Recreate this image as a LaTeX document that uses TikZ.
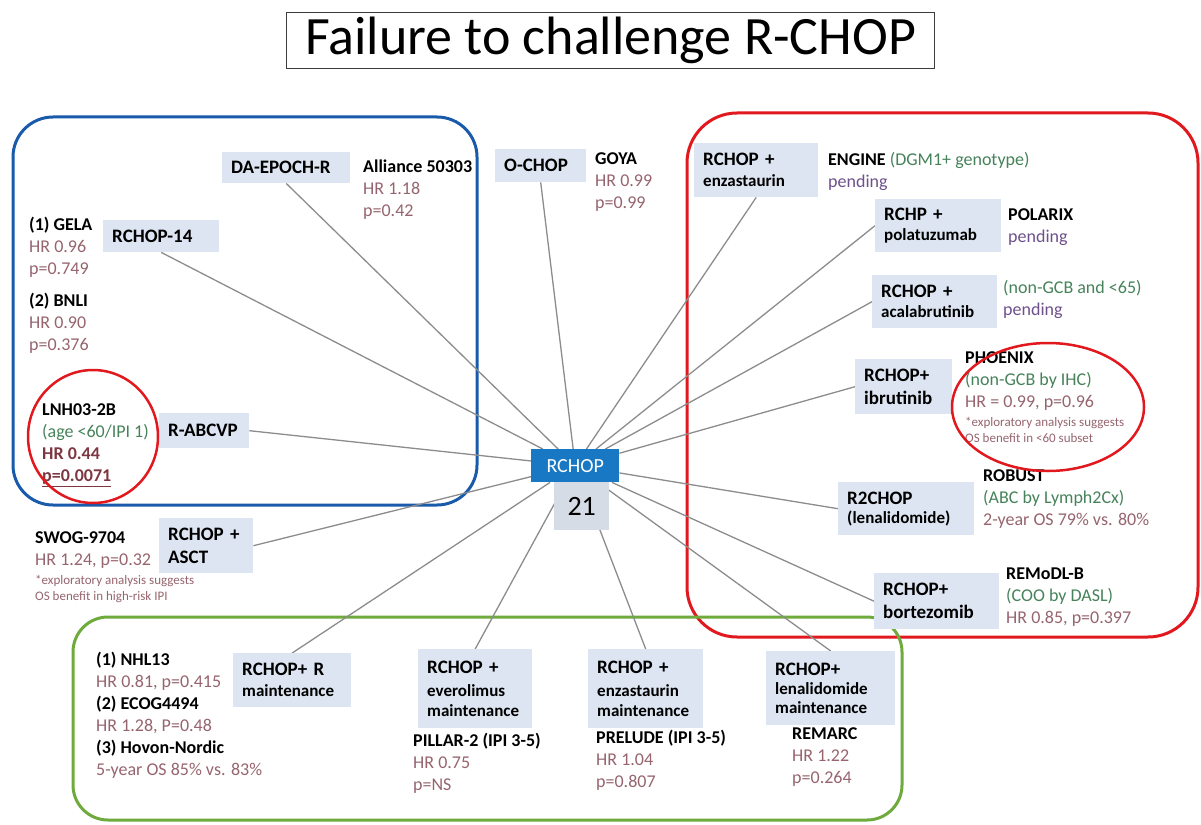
\documentclass[tikz,border=0pt]{standalone}
\usepackage{fontspec}
\setmainfont{Carlito}
\usetikzlibrary{backgrounds}

\definecolor{armfill}{RGB}{220,229,241}
\definecolor{numfill}{RGB}{214,220,229}
\definecolor{hubblue}{RGB}{25,120,195}
\definecolor{hrcol}{RGB}{150,100,110}
\definecolor{hrdark}{RGB}{125,55,65}
\definecolor{grncol}{RGB}{70,130,90}
\definecolor{purcol}{RGB}{110,80,140}
\definecolor{blueframe}{RGB}{25,90,170}
\definecolor{redframe}{RGB}{225,25,30}
\definecolor{greenframe}{RGB}{110,170,60}
\definecolor{spokecol}{RGB}{140,140,140}

\newcommand{\armsub}{\fontsize{17}{20}\selectfont}
\newcommand{\hr}[1]{{\color{hrcol}#1}}
\newcommand{\grn}[1]{{\color{grncol}#1}}
\newcommand{\pend}{{\color{purcol}pending}}

\tikzset{
  arm/.style={fill=armfill, anchor=north west, inner xsep=9pt, inner ysep=0pt, align=left,
    font=\bfseries\fontsize{19}{23}\selectfont},
  trial/.style={anchor=north west, inner sep=0pt, align=left,
    font=\fontsize{18}{22}\selectfont, execute at begin node=\strut},
  note/.style={anchor=north west, inner sep=0pt, align=left,
    font=\fontsize{13}{16}\selectfont, text=hrcol, execute at begin node=\strut},
  spoke/.style={draw=spokecol, line width=1.3pt},
  frame/.style={line width=3pt, rounded corners=#1},
  ring/.style={draw=redframe, line width=2.5pt},
}

\begin{document}
\begin{tikzpicture}[x=1pt,y=-1pt]
\useasboundingbox (0,0) rectangle (1201,824);

% title
\node[draw={rgb,255:red,60;green,60;blue,60}, line width=1.2pt, anchor=north west, inner sep=0pt,
  minimum width=648pt, minimum height=56pt, font=\fontsize{54}{60}\selectfont] (title) at (286,12) {Failure to challenge R-CHOP};

% hub
\node[fill=hubblue, text=white, anchor=north west, inner sep=0pt, minimum width=88pt, minimum height=33pt,
  font=\fontsize{20}{24}\selectfont] (hub) at (531,449) {RCHOP};
\node[fill=numfill, anchor=north west, inner sep=0pt, minimum width=55pt, minimum height=48pt,
  font=\fontsize{28}{32}\selectfont] (cycles) at (554,482) {21};

% arms, left
\node[arm, text width=110pt, minimum height=31pt] (daepoch) at (222,152) {DA-EPOCH-R};
\node[arm, text width=98pt, minimum height=32pt] (rchopfourteen) at (103,220) {RCHOP-14};
\node[arm, text width=72pt, minimum height=35pt] (rabcvp) at (159,413) {R-ABCVP};
\node[arm, text width=76pt, minimum height=55pt] (asct) at (159,518) {RCHOP +\\ASCT};
\node[arm, text width=73pt, minimum height=33pt] (ochop) at (495,149) {O-CHOP};

% arms, right
\node[arm, text width=106pt, minimum height=54pt] (enza) at (694,143) {RCHOP +\\[-2pt]{\armsub enzastaurin}};
\node[arm, text width=108pt, minimum height=53pt] (pola) at (875,199) {RCHP +\\[-3pt]{\armsub polatuzumab}};
\node[arm, text width=107pt, minimum height=53pt] (acala) at (872,275) {RCHOP +\\[-3pt]{\armsub acalabrutinib}};
\node[arm, text width=79pt, minimum height=55pt] (ibru) at (855,359) {RCHOP+\\ibrutinib};
\node[arm, text width=118pt, minimum height=53pt] (rtwo) at (838,482) {R2CHOP\\[-4pt]{\armsub (lenalidomide)}};
\node[arm, text width=107pt, minimum height=56pt] (borte) at (874,573) {RCHOP+\\bortezomib};

% arms, maintenance
\node[arm, text width=100pt, minimum height=54pt] (rmaint) at (233,653) {RCHOP+ R\\[-2pt]{\armsub maintenance}};
\node[arm, text width=96pt, minimum height=79pt] (everol) at (418,649) {RCHOP +\\{\armsub everolimus}\\[-3pt]{\armsub maintenance}};
\node[arm, text width=97pt, minimum height=79pt] (enzam) at (588,649) {RCHOP +\\{\armsub enzastaurin}\\[-3pt]{\armsub maintenance}};
\node[arm, text width=111pt, minimum height=74pt] (lenam) at (766,651) {RCHOP+\\[-4pt]{\armsub lenalidomide}\\[-4pt]{\armsub maintenance}};

% trials
\node[trial] (alliance) at (363,159.6) {\textbf{Alliance 50303}\\\hr{HR 1.18}\\\hr{p=0.42}};
\node[trial] (goya) at (595,152.6) {\textbf{GOYA}\\\hr{HR 0.99}\\\hr{p=0.99}};
\node[trial] (gela) at (29,216.6) {\textbf{(1) GELA}\\\hr{HR 0.96}\\\hr{p=0.749}};
\node[trial] (bnli) at (29,292.6) {\textbf{(2) BNLI}\\\hr{HR 0.90}\\\hr{p=0.376}};
\node[trial] (lnh) at (42,403.6) {\textbf{LNH03-2B}\\\grn{(age <60/IPI 1)}\\{\color{hrdark}\textbf{HR 0.44}}\\{\color{hrdark}\textbf{\underline{p=0.0071}}}};
\node[trial] (swog) at (35,531.6) {\textbf{SWOG-9704}\\\hr{HR 1.24, p=0.32}};
\node[note] (swognote) at (35,574.8) {*exploratory analysis suggests\\OS benefit in high-risk IPI};
\node[trial] (engine) at (828,152.6) {\textbf{ENGINE} \grn{(DGM1+ genotype)}\\\pend};
\node[trial] (polarix) at (1008,208.6) {\textbf{POLARIX}\\\pend};
\node[trial] (nongcb) at (1003,280.6) {\grn{(non-GCB and <65)}\\\pend};
\node[trial] (phoenix) at (965,351.6) {\textbf{PHOENIX}\\\grn{(non-GCB by IHC)}\\\hr{HR = 0.99, p=0.96}};
\node[note] (phoenixnote) at (965,416.8) {*exploratory analysis suggests\\OS benefit in <60 subset};
\node[trial] (robust) at (983,469.6) {\textbf{ROBUST}\\\grn{(ABC by Lymph2Cx)}\\\hr{2-year OS 79\% vs. 80\%}};
\node[trial] (remodl) at (1006,567.6) {\textbf{REMoDL-B}\\\grn{(COO by DASL)}\\\hr{HR 0.85, p=0.397}};
\node[trial] (nhl) at (96,651.6) {\textbf{(1) NHL13}\\\hr{HR 0.81, p=0.415}\\\textbf{(2) ECOG4494}\\\hr{HR 1.28, P=0.48}\\\textbf{(3) Hovon-Nordic}\\\hr{5-year OS 85\% vs. 83\%}};
\node[trial] (pillar) at (413,732.6) {\textbf{PILLAR-2 (IPI 3-5)}\\\hr{HR 0.75}\\\hr{p=NS}};
\node[trial] (prelude) at (596,729.6) {\textbf{PRELUDE (IPI 3-5)}\\\hr{HR 1.04}\\\hr{p=0.807}};
\node[trial] (remarc) at (792,727.6) {\textbf{REMARC}\\\hr{HR 1.22}\\\hr{p=0.264}};

% highlighted results
\draw[ring] (93,436.5) ellipse [x radius=65pt, y radius=66.5pt];
\draw[ring] (1048,407) ellipse [x radius=96pt, y radius=64pt];

\begin{scope}[on background layer]
\draw[frame=40pt, draw=blueframe] (13,117) rectangle (477,505);
\draw[frame=50pt, draw=redframe] (687,113) rectangle (1198,637);
\draw[frame=35pt, draw=greenframe] (73,617) rectangle (902,820);
\foreach \a in {daepoch.south, rchopfourteen.south, rabcvp.east, asct.east, ochop.south,
  enza.south, pola.west, acala.west, ibru.west, rtwo.west, borte.west,
  rmaint.north, everol.north, enzam.north, lenam.north}
  \draw[spoke] (\a) -- (hub);
\end{scope}
\end{tikzpicture}
\end{document}
